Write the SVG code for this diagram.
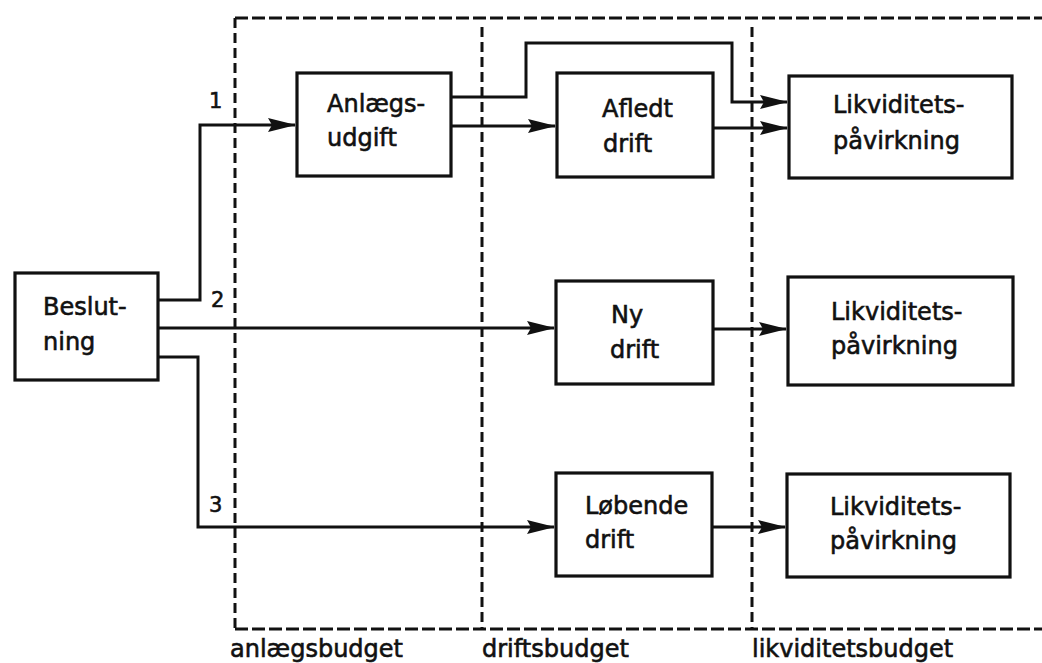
<svg xmlns="http://www.w3.org/2000/svg" width="1042" height="663" viewBox="0 0 1042 663">
<style>
.box{fill:#fff;stroke:#111;stroke-width:3.2}
.t{font-family:"DejaVu Sans",sans-serif;font-size:24px;fill:#111;stroke:#111;stroke-width:0.6}
.n{font-family:"DejaVu Sans",sans-serif;font-size:21px;fill:#111;stroke:#111;stroke-width:0.6}
.c{fill:none;stroke:#111;stroke-width:3;marker-end:url(#ah)}
.d{fill:none;stroke:#111;stroke-width:3}
</style>
<defs>
<marker id="ah" markerUnits="userSpaceOnUse" markerWidth="28" markerHeight="16" refX="27" refY="8" orient="auto">
<path d="M0,1 L28,8 L0,15 L4,8 z" fill="#111"/>
</marker>
</defs>
<rect width="1042" height="663" fill="#fff"/>
<g id="frames">
<path class="d" d="M235,18 H1042" stroke-dasharray="13 4"/>
<path class="d" d="M235,629 H1042" stroke-dasharray="13 4"/>
<path class="d" d="M235,18 V629" stroke-dasharray="10 5"/>
<path class="d" d="M482,27 V629" stroke-dasharray="10 5"/>
<path class="d" d="M752,27 V629" stroke-dasharray="10 5"/>
<text class="t" x="230" y="657">anlægsbudget</text>
<text class="t" x="482" y="657">driftsbudget</text>
<text class="t" x="752" y="657">likviditetsbudget</text>
</g>
<g id="connectors">
<path class="c" d="M158,300 H200 V125 H295"/>
<path class="c" d="M451,97 H526 V43 H732 V102 H787"/>
<path class="c" d="M451,126 H555"/>
<path class="c" d="M713,128 H787"/>
<path class="c" d="M158,328 H554"/>
<path class="c" d="M714,329 H786"/>
<path class="c" d="M158,357 H198 V527 H554"/>
<path class="c" d="M712,527 H785"/>
<text class="n" x="209" y="108">1</text>
<text class="n" x="211" y="307">2</text>
<text class="n" x="209" y="512">3</text>
</g>
<g id="beslutning">
<rect class="box" x="15" y="273" width="143" height="107"/>
<text class="t" x="43" y="315">Beslut-</text>
<text class="t" x="43" y="350">ning</text>
</g>
<g id="anlaegsudgift">
<rect class="box" x="297" y="73" width="154" height="103"/>
<text class="t" x="327" y="112">Anlægs-</text>
<text class="t" x="327" y="146">udgift</text>
</g>
<g id="afledt">
<rect class="box" x="557" y="73" width="156" height="104"/>
<text class="t" x="602" y="117">Afledt</text>
<text class="t" x="603" y="152">drift</text>
</g>
<g id="likv1">
<rect class="box" x="789" y="76" width="223" height="102"/>
<text class="t" x="833" y="113">Likviditets-</text>
<text class="t" x="833" y="149">påvirkning</text>
</g>
<g id="ny">
<rect class="box" x="556" y="281" width="157" height="103"/>
<text class="t" x="611" y="323">Ny</text>
<text class="t" x="610" y="358">drift</text>
</g>
<g id="likv2">
<rect class="box" x="788" y="277" width="225" height="108"/>
<text class="t" x="831" y="320">Likviditets-</text>
<text class="t" x="831" y="354">påvirkning</text>
</g>
<g id="lobende">
<rect class="box" x="556" y="473" width="156" height="103"/>
<text class="t" x="585" y="514">Løbende</text>
<text class="t" x="585" y="548">drift</text>
</g>
<g id="likv3">
<rect class="box" x="787" y="474" width="223" height="103"/>
<text class="t" x="830" y="515">Likviditets-</text>
<text class="t" x="830" y="549">påvirkning</text>
</g>
</svg>
